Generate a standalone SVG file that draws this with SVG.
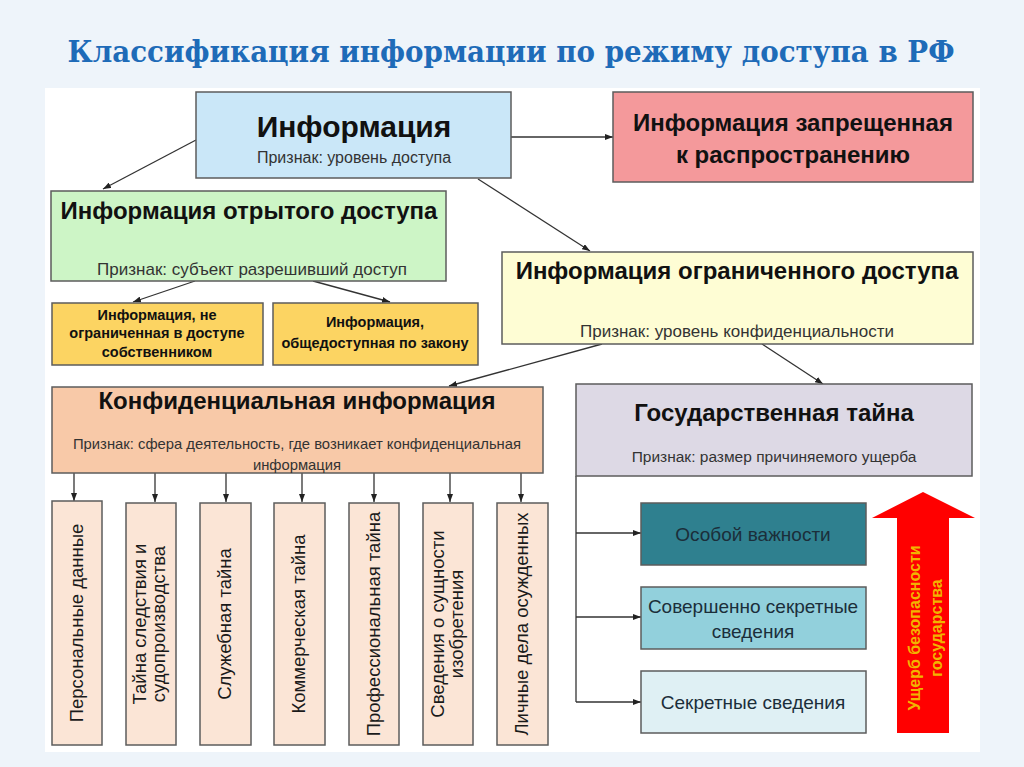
<svg xmlns="http://www.w3.org/2000/svg" width="1024" height="767" viewBox="0 0 1024 767">
<defs>
<marker id="ah" markerUnits="userSpaceOnUse" markerWidth="8" markerHeight="6" refX="8" refY="3" orient="auto">
<path d="M0,0 L8,3 L0,6 Z" fill="#222"/>
</marker>
<style>
.box{stroke:#5c5c5c;stroke-width:1.5}
.h{font-family:"Liberation Sans",Arial,sans-serif;font-weight:bold;fill:#111;text-anchor:middle}
.s{font-family:"Liberation Sans",Arial,sans-serif;fill:#333;text-anchor:middle}
.v{font-family:"Liberation Sans",Arial,sans-serif;fill:#1a1a1a;text-anchor:middle;font-size:18.5px}
.g{font-family:"Liberation Sans",Arial,sans-serif;fill:#1b2e3a;text-anchor:middle;font-size:19px}
.c line,.c path{stroke:#333;stroke-width:1.3;fill:none}
.vb{fill:#fbe5d6}
</style>
</defs>
<rect x="0" y="0" width="1024" height="767" fill="#eef4fa"/>
<rect x="45" y="88" width="935" height="664" fill="#ffffff"/>
<text x="511" y="62" font-family="'DejaVu Serif','Liberation Serif',serif" font-weight="bold" font-size="29" fill="#1e6bb8" text-anchor="middle" textLength="887" lengthAdjust="spacingAndGlyphs">Классификация информации по режиму доступа в РФ</text>

<g class="c">
<line x1="196" y1="140" x2="103" y2="189" marker-end="url(#ah)"/>
<line x1="511" y1="137" x2="613" y2="137" marker-end="url(#ah)"/>
<line x1="478" y1="179" x2="590" y2="251" marker-end="url(#ah)"/>
<line x1="195" y1="281" x2="133" y2="302" marker-end="url(#ah)"/>
<line x1="313" y1="281" x2="390" y2="302" marker-end="url(#ah)"/>
<line x1="602" y1="344" x2="449" y2="386" marker-end="url(#ah)"/>
<line x1="762" y1="344" x2="823" y2="384" marker-end="url(#ah)"/>
<line x1="74" y1="473" x2="74" y2="501" marker-end="url(#ah)"/>
<line x1="155" y1="473" x2="155" y2="502" marker-end="url(#ah)"/>
<line x1="226" y1="473" x2="226" y2="502" marker-end="url(#ah)"/>
<line x1="302" y1="473" x2="302" y2="502" marker-end="url(#ah)"/>
<line x1="374" y1="473" x2="374" y2="502" marker-end="url(#ah)"/>
<line x1="450" y1="473" x2="450" y2="502" marker-end="url(#ah)"/>
<line x1="521" y1="473" x2="521" y2="502" marker-end="url(#ah)"/>
<line x1="576" y1="476" x2="576" y2="702"/>
<line x1="576" y1="533" x2="641" y2="533" marker-end="url(#ah)"/>
<line x1="576" y1="617" x2="641" y2="617" marker-end="url(#ah)"/>
<line x1="576" y1="702" x2="641" y2="702" marker-end="url(#ah)"/>
</g>

<g id="info">
<rect class="box" x="196" y="92" width="315" height="86" fill="#cae7f8"/>
<text class="h" x="354" y="137" font-size="30">Информация</text>
<text class="s" x="354" y="163" font-size="16">Признак: уровень доступа</text>
</g>
<g id="forbidden">
<rect class="box" x="613" y="92" width="360" height="90" fill="#f4999b"/>
<text class="h" x="793" y="131" font-size="24">Информация запрещенная</text>
<text class="h" x="793" y="163" font-size="24">к распространению</text>
</g>
<g id="open">
<rect class="box" x="51" y="191" width="395" height="90" fill="#cdf5c6"/>
<text class="h" x="249" y="219" font-size="24">Информация отрытого доступа</text>
<text class="s" x="252" y="275" font-size="17">Признак: субъект разрешивший доступ</text>
</g>
<g id="restricted">
<rect class="box" x="502" y="252" width="471" height="92" fill="#fefdd4"/>
<text class="h" x="737" y="279" font-size="24">Информация ограниченного доступа</text>
<text class="s" x="737" y="337" font-size="17">Признак: уровень конфиденциальности</text>
</g>
<g id="owner">
<rect class="box" x="52" y="303" width="211" height="62" fill="#fcd462"/>
<text class="h" x="157" y="320" font-size="14.5">Информация, не</text>
<text class="h" x="157" y="338" font-size="14.5">ограниченная в доступе</text>
<text class="h" x="157" y="357" font-size="14.5">собственником</text>
</g>
<g id="public">
<rect class="box" x="273" y="303" width="205" height="62" fill="#fcd462"/>
<text class="h" x="375" y="327" font-size="14.5">Информация,</text>
<text class="h" x="375" y="348" font-size="14.5">общедоступная по закону</text>
</g>
<g id="conf">
<rect class="box" x="52" y="387" width="491" height="86" fill="#f8c9a8"/>
<text class="h" x="297" y="409" font-size="24">Конфиденциальная информация</text>
<text class="s" x="297" y="449" font-size="14.8">Признак: сфера деятельность, где возникает конфиденциальная</text>
<text class="s" x="297" y="470" font-size="14.8">информация</text>
</g>
<g id="state">
<rect class="box" x="576" y="384" width="396" height="92" fill="#ddd9e5"/>
<text class="h" x="774" y="421" font-size="24">Государственная тайна</text>
<text class="s" x="774" y="462" font-size="15.5">Признак: размер причиняемого ущерба</text>
</g>

<g id="v1"><rect class="box vb" x="52" y="501" width="50" height="244"/>
<text class="v" transform="translate(83,623) rotate(-90)">Персональные данные</text></g>
<g id="v2"><rect class="box vb" x="126" y="503" width="50" height="242"/>
<text class="v" transform="translate(146,624) rotate(-90)">Тайна следствия и</text>
<text class="v" transform="translate(165,624) rotate(-90)">судопроизводства</text></g>
<g id="v3"><rect class="box vb" x="200" y="503" width="51" height="242"/>
<text class="v" transform="translate(231,624) rotate(-90)">Служебная тайна</text></g>
<g id="v4"><rect class="box vb" x="274" y="503" width="51" height="242"/>
<text class="v" transform="translate(305,624) rotate(-90)">Коммерческая тайна</text></g>
<g id="v5"><rect class="box vb" x="349" y="503" width="50" height="242"/>
<text class="v" transform="translate(380,624) rotate(-90)">Профессиональная тайна</text></g>
<g id="v6"><rect class="box vb" x="423" y="503" width="50" height="242"/>
<text class="v" transform="translate(444,624) rotate(-90)">Сведения о сущности</text>
<text class="v" transform="translate(463,624) rotate(-90)">изобретения</text></g>
<g id="v7"><rect class="box vb" x="497" y="503" width="51" height="242"/>
<text class="v" transform="translate(528,624) rotate(-90)">Личные дела осужденных</text></g>

<g id="top-secret"><rect class="box" x="641" y="503" width="225" height="62" fill="#2f808f"/>
<text class="g" x="753" y="541">Особой важности</text></g>
<g id="very-secret"><rect class="box" x="641" y="587" width="225" height="62" fill="#92d0dc"/>
<text class="g" x="753" y="613">Совершенно секретные</text>
<text class="g" x="753" y="638">сведения</text></g>
<g id="secret"><rect class="box" x="641" y="671" width="225" height="62" fill="#dff0f4"/>
<text class="g" x="753" y="709">Секретные сведения</text></g>

<g id="damage">
<polygon points="923,492 975,518 949,518 949,733 897,733 897,518 872,518" fill="#ff0000"/>
<text transform="translate(920,628) rotate(-90)" font-family="'Liberation Sans',Arial,sans-serif" font-weight="bold" font-size="16" fill="#f2b400" text-anchor="middle">Ущерб безопасности</text>
<text transform="translate(942,628) rotate(-90)" font-family="'Liberation Sans',Arial,sans-serif" font-weight="bold" font-size="16" fill="#f2b400" text-anchor="middle">государства</text>
</g>
</svg>
